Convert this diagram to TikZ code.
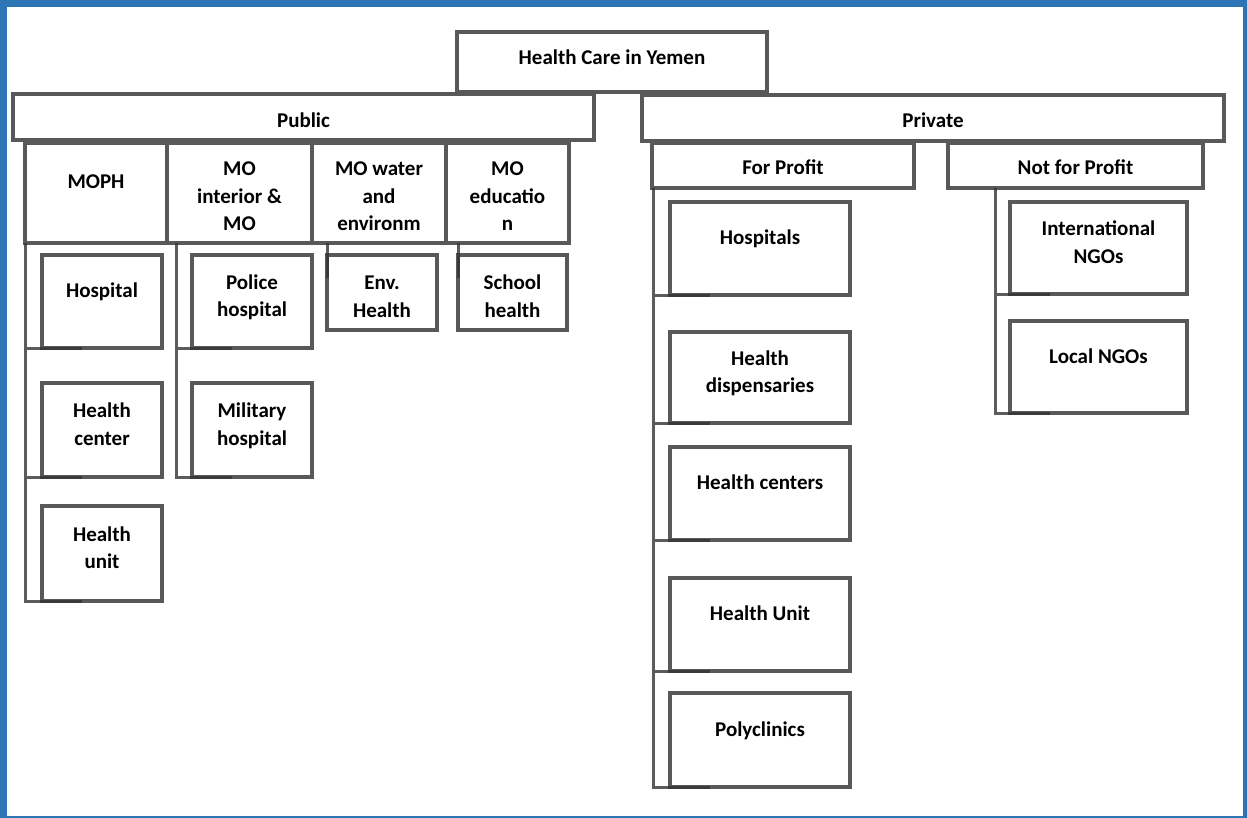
\documentclass[tikz,border=0pt]{standalone}
\usepackage{fontspec}
\setmainfont{Carlito}
\definecolor{framebl}{HTML}{2E75B6}
\definecolor{boxgray}{HTML}{595959}
\tikzset{
  box/.style={draw=boxgray, line width=4.5pt, fill=white, outer sep=0pt, inner sep=1pt, align=center,
    font=\bfseries\fontsize{21}{27.5}\selectfont},
  lift/.style={text depth=#1},
  lift/.default=22pt,
  drop/.style={text height=#1},
  link/.style={draw=black!80, draw opacity=.8, line width=3pt}
}
\begin{document}
\begin{tikzpicture}[x=1pt, y=-1pt]
\useasboundingbox (0,0) rectangle (1247,818);
\draw[framebl, line width=7pt] (3.5,3.5) rectangle (1246.5,819.5);

\node[box, lift=10pt, minimum width=310pt, minimum height=60pt] (yemen) at (612,62) {Health Care in Yemen};
\node[box, drop=20.5pt, minimum width=581pt, minimum height=46pt] (public) at (303.5,117) {Public};
\node[box, drop=19pt, minimum width=582pt, minimum height=46pt] (private) at (933,118) {Private};

\node[box, lift, minimum width=142pt, minimum height=100pt] (moph) at (96,193) {MOPH};
\node[box, drop=75.5pt, minimum width=145pt, minimum height=100pt] (mointerior) at (239.5,193) {MO\\interior \&\\MO};
\node[box, drop=75.5pt, minimum width=134pt, minimum height=100pt] (mowater) at (379,193) {MO water\\and\\environm};
\node[box, drop=75.5pt, minimum width=123pt, minimum height=100pt] (moedu) at (507.5,193) {MO\\educatio\\n};

\node[box, lift, minimum width=120pt, minimum height=93pt] (hospital) at (102,301.5) {Hospital};
\node[box, lift=12pt, minimum width=120pt, minimum height=94pt] (healthcenter) at (102,430) {Health\\center};
\node[box, lift=12pt, minimum width=120pt, minimum height=95pt] (healthunit) at (102,553.5) {Health\\unit};
\node[box, lift=12pt, minimum width=120pt, minimum height=93pt] (police) at (252,301.5) {Police\\hospital};
\node[box, lift=12pt, minimum width=120pt, minimum height=94pt] (military) at (252,430) {Military\\hospital};
\node[box, drop=49.5pt, minimum width=110pt, minimum height=75pt] (env) at (382,292.5) {Env.\\Health};
\node[box, drop=49.5pt, minimum width=109pt, minimum height=75pt] (school) at (512.5,292.5) {School\\health};

\node[box, drop=19pt, minimum width=262pt, minimum height=45pt] (forprofit) at (783,165.5) {For Profit};
\node[box, drop=19pt, minimum width=255pt, minimum height=45pt] (notprofit) at (1075.5,165.5) {Not for Profit};

\node[box, lift, minimum width=180pt, minimum height=93pt] (hospitals) at (760,248.5) {Hospitals};
\node[box, lift=12pt, minimum width=180pt, minimum height=91pt] (dispensaries) at (760,377.5) {Health\\dispensaries};
\node[box, lift, minimum width=180pt, minimum height=93pt] (centers) at (760,493.5) {Health centers};
\node[box, lift, minimum width=180pt, minimum height=93pt] (unit) at (760,624.5) {Health Unit};
\node[box, lift, minimum width=180pt, minimum height=94pt] (polyclinics) at (760,740) {Polyclinics};
\node[box, lift=12pt, minimum width=177pt, minimum height=92pt] (intngo) at (1098.5,248) {International\\NGOs};
\node[box, lift, minimum width=177pt, minimum height=92pt] (localngo) at (1098.5,367) {Local NGOs};

\draw[link] \foreach \c in {hospital,healthcenter,healthunit} {(moph.south west) |- ([xshift=40pt]\c.south west)};
\draw[link] \foreach \c in {police,military} {([xshift=9pt]mointerior.south west) |- ([xshift=40pt]\c.south west)};
\draw[link] (env.west |- mowater.south) -- ([yshift=-23pt]env.north west);
\draw[link] (school.west |- moedu.south) -- ([yshift=-23pt]school.north west);
\draw[link] \foreach \c in {hospitals,dispensaries,centers,unit,polyclinics} {([xshift=1pt]forprofit.south west) |- ([xshift=40pt]\c.south west)};
\draw[link] \foreach \c in {intngo,localngo} {([xshift=47pt]notprofit.south west) |- ([xshift=40pt]\c.south west)};
\end{tikzpicture}
\end{document}
